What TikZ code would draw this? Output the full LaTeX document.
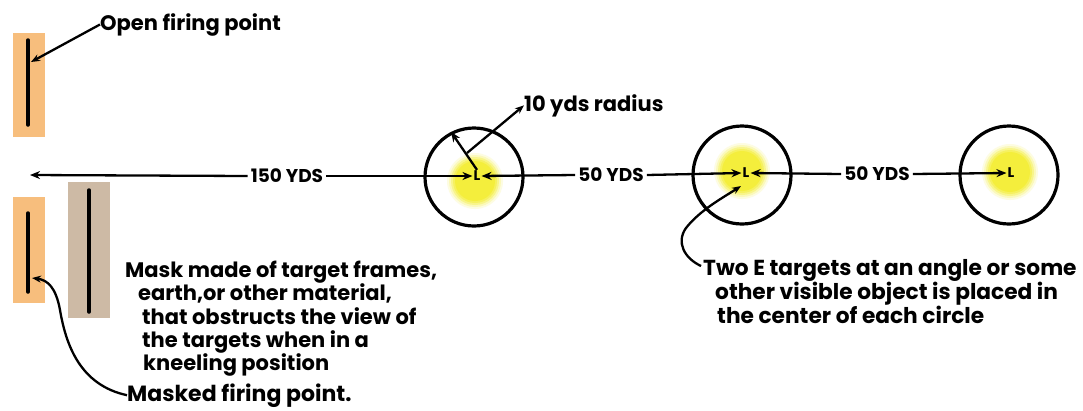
\documentclass[tikz,border=0pt]{standalone}
\usepackage{fontspec}
\setmainfont{Poppins}
\usetikzlibrary{arrows.meta,calc}
\definecolor{pad}{RGB}{247,190,125}
\definecolor{maskc}{RGB}{205,186,165}
\definecolor{yel}{RGB}{244,238,60}
\tikzset{glow/.style={fill=yel!#1!white}}
\begin{document}
\begin{tikzpicture}[x=1pt,y=-1pt,
  lbl/.style={font=\bfseries\fontsize{21}{23.3}\selectfont, inner sep=0pt},
  distlbl/.style={font=\bfseries\fontsize{18.5}{20}\selectfont, inner sep=3pt},
  ring/.style={circle, draw, line width=3.2pt, minimum size=98pt, inner sep=0pt},
  arr/.style={line width=2.3pt, -{Stealth[length=10pt,width=8pt]}},
  lead/.style={line width=2.3pt, -{Stealth[length=9pt,width=7pt]}},
  bar/.style={line width=3.5pt, line cap=round},
  Lm/.style={font=\bfseries\fontsize{14}{14}\selectfont, inner sep=1pt}]
\path[use as bounding box, fill=white] (0,0) rectangle (1083,410);

% glows
\foreach \gx/\gy in {475/181, 742/171, 1010/172}{
  \fill[glow=15] (\gx,\gy) circle[radius=28];
  \fill[glow=35] (\gx,\gy) circle[radius=26];
  \fill[glow=60] (\gx,\gy) circle[radius=24];
  \fill[glow=82] (\gx,\gy) circle[radius=22];
  \fill[glow=100] (\gx,\gy) circle[radius=20];
}

% firing points and mask
\fill[pad] (13,33) rectangle (45,137);
\draw[bar] (28,40) -- (28,125);
\fill[pad] (13,197) rectangle (45,303);
\draw[bar] (28,213) -- (28,292);
\fill[maskc] (68,182) rectangle (110,318);
\draw[bar] (89,190) -- (89,312);

% circles and markers
\node[ring] (c1) at (474,177) {};
\node[ring] (c2) at (742,175) {};
\node[ring] (c3) at (1009,175) {};
\node[Lm] (L1) at (477,176) {L};
\node[Lm] (L2) at (746,173) {L};
\node[Lm] (L3) at (1011,173) {L};

% distance labels and arrows
\coordinate (leftEnd) at (30,175);
\node[distlbl] (t150) at (287,176) {150 YDS};
\node[distlbl] (t50a) at (611,175) {50 YDS};
\node[distlbl] (t50b) at (877,174) {50 YDS};
\draw[arr] (t150.west) -- (leftEnd);
\draw[arr] (t150.east) -- (L1.west);
\draw[arr] (t50a.west) -- (L1.east);
\draw[arr] (t50a.east) -- (L2.west);
\draw[arr] (t50b.west) -- (L2.east);
\draw[arr] (t50b.east) -- (L3.west);

% radius
\draw[arr] (L1.north) -- (c1.117);
\node[lbl, anchor=base west] (t10) at (524,111) {10 yds radius};
\coordinate (rl) at (467,153);
\draw[lead] (rl) -- (t10.west);

% open firing point
\node[lbl, anchor=base west] (open) at (100,30) {Open firing point};
\coordinate (openPt) at (31,62);
\draw[lead] (open.west) -- (openPt);

% mask text
\node[lbl, align=left, anchor=north west] (mask) at (125,261) {Mask made of target frames,\\
\hspace*{13pt}earth,or other material,\\
\hspace*{17pt}that obstructs the view of\\
\hspace*{17pt}the targets when in a\\
\hspace*{18pt}kneeling position};

% masked firing point
\node[lbl, anchor=base west, font=\bfseries\fontsize{22}{22}\selectfont] (masked) at (127,401) {Masked firing point.};
\coordinate (maskPt) at (32,278);
\draw[lead] (masked.west) .. controls (80,385) and (66,345) .. (60,310) .. controls (56,288) and (48,280) .. (maskPt);

% two E targets
\node[lbl, align=left, anchor=north west, font=\bfseries\fontsize{21.7}{21.8}\selectfont] (two) at (703,259) {Two E targets at an angle or some\\
\hspace*{12pt}other visible object is placed in\\
\hspace*{14pt}the center of each circle};
\coordinate (tipE) at (741,186);
\draw[lead] ($(two.north west)+(-2,7)$) .. controls (684,258) and (676,242) .. (686,228) .. controls (700,210) and (724,197) .. (tipE);
\end{tikzpicture}
\end{document}
